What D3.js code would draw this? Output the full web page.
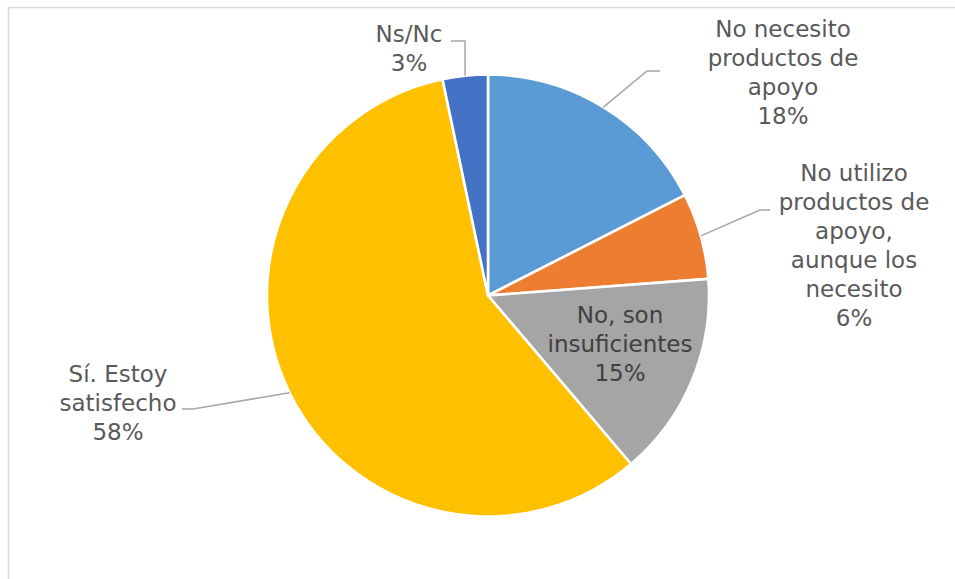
<!DOCTYPE html>
<html>
<head>
<meta charset="utf-8">
<script src="https://cdn.jsdelivr.net/npm/d3@7/dist/d3.min.js"></script>
<style>
  html, body { margin: 0; padding: 0; background: #fff; }
  svg { display: block; }
</style>
</head>
<body>
<svg id="chart" width="955" height="579"></svg>
<script>
// ---- Data ----
const categories = [
  ["No necesito", "productos de", "apoyo"],
  ["No utilizo", "productos de", "apoyo,", "aunque los", "necesito"],
  ["No, son", "insuficientes"],
  ["Sí. Estoy", "satisfecho"],
  ["Ns/Nc"]
];
const values = [17.5, 6.3, 15.0, 57.9, 3.3];
const colors = ["#5B9BD5", "#ED7D31", "#A5A5A5", "#FFC000", "#4472C4"];

// ---- Layout (label placement, not data) ----
const W = 955, H = 579;
const cx = 488, cy = 295.5, R = 221;
const lineStep = 29;
const labelLayout = [
  { x: 783, y: 37,  elbow: [647, 71],  end: [660, 71] },
  { x: 854, y: 181, elbow: [760, 210], end: [770, 210] },
  { x: 620, y: 323, inside: true },
  { x: 118, y: 382, elbow: [193, 409], end: [182, 409] },
  { x: 409, y: 42,  elbow: [465, 41],  end: [451, 41] }
];

const svg = d3.select("#chart");

// chart area border
svg.append("rect")
  .attr("x", 8.5).attr("y", 7.5)
  .attr("width", W + 20).attr("height", H + 20)
  .attr("fill", "#fff")
  .attr("stroke", "#d9d9d9")
  .attr("stroke-width", 1.5);

const total = d3.sum(values);
const pie = d3.pie().sort(null).value(d => d).startAngle(0).endAngle(2 * Math.PI);
const arcs = pie(values);
const arc = d3.arc().innerRadius(0).outerRadius(R);

const g = svg.append("g").attr("transform", `translate(${cx},${cy})`);

g.selectAll("path.slice")
  .data(arcs)
  .join("path")
  .attr("class", "slice")
  .attr("d", arc)
  .attr("fill", (d, i) => colors[i])
  .attr("stroke", "#fff")
  .attr("stroke-width", 2.6)
  .attr("stroke-linejoin", "round");

// leader lines
arcs.forEach((a, i) => {
  const L = labelLayout[i];
  if (L.inside) return;
  const mid = (a.startAngle + a.endAngle) / 2;
  const px = cx + R * Math.sin(mid);
  const py = cy - R * Math.cos(mid);
  svg.append("polyline")
    .attr("points", [[px, py], L.elbow, L.end].map(p => p.join(",")).join(" "))
    .attr("fill", "none")
    .attr("stroke", "#a6a6a6")
    .attr("stroke-width", 1.5);
});

// labels
arcs.forEach((a, i) => {
  const L = labelLayout[i];
  const pct = Math.round(values[i] / total * 100) + "%";
  const lines = categories[i].concat([pct]);
  const t = svg.append("text")
    .attr("text-anchor", "middle")
    .attr("font-family", "'DejaVu Sans', sans-serif")
    .attr("font-size", 23)
    .attr("fill", L.inside ? "#404040" : "#595959");
  lines.forEach((ln, k) => {
    t.append("tspan")
      .attr("x", L.x)
      .attr("y", L.y + k * lineStep)
      .text(ln);
  });
});
</script>
</body>
</html>
